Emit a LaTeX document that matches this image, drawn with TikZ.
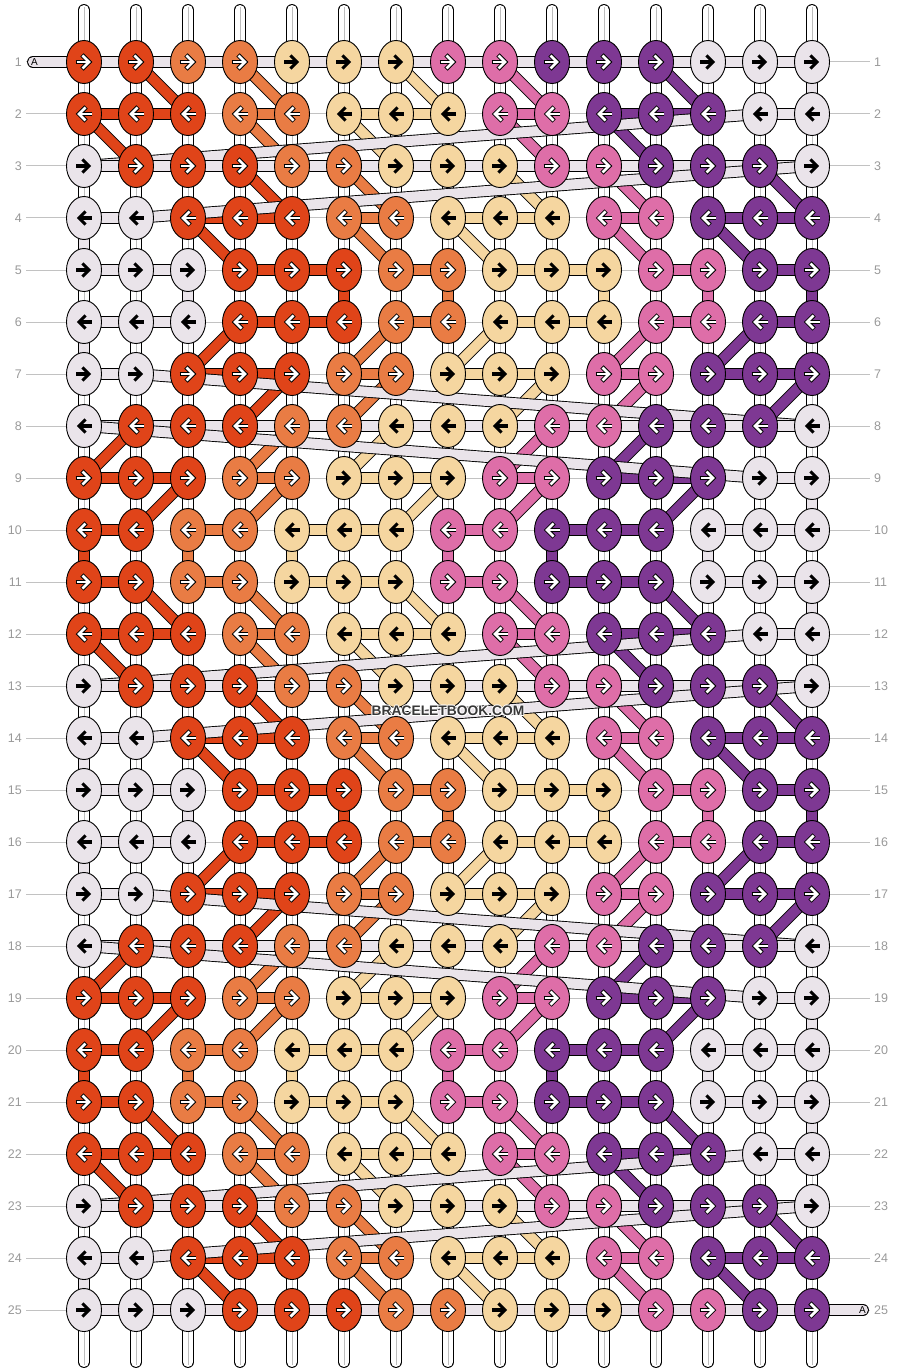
\documentclass[tikz,border=0pt]{standalone}
\usepackage{fontspec}
\setmainfont{Liberation Sans}
\usetikzlibrary{shapes.geometric}
\definecolor{kR}{HTML}{E04419}
\definecolor{kO}{HTML}{E97C44}
\definecolor{kY}{HTML}{F5D6A0}
\definecolor{kP}{HTML}{DE6EA8}
\definecolor{kV}{HTML}{7E3893}
\definecolor{kW}{HTML}{EAE4EA}
\definecolor{lblgray}{HTML}{999999}
\definecolor{rowgray}{HTML}{C2C2C2}
\definecolor{strandmid}{HTML}{BDBDBD}
\definecolor{wmtext}{HTML}{383838}
% knot colour patterns (rows 1..11; rows 12-25 repeat 2..11)
\expandafter\def\csname pat1\endcsname{R,R,O,O,Y,Y,Y,P,P,V,V,V,W,W,W}
\expandafter\def\csname pat2\endcsname{R,R,R,O,O,Y,Y,Y,P,P,V,V,V,W,W}
\expandafter\def\csname pat3\endcsname{W,R,R,R,O,O,Y,Y,Y,P,P,V,V,V,W}
\expandafter\def\csname pat4\endcsname{W,W,R,R,R,O,O,Y,Y,Y,P,P,V,V,V}
\expandafter\def\csname pat5\endcsname{W,W,W,R,R,R,O,O,Y,Y,Y,P,P,V,V}
\expandafter\def\csname pat6\endcsname{W,W,W,R,R,R,O,O,Y,Y,Y,P,P,V,V}
\expandafter\def\csname pat7\endcsname{W,W,R,R,R,O,O,Y,Y,Y,P,P,V,V,V}
\expandafter\def\csname pat8\endcsname{W,R,R,R,O,O,Y,Y,Y,P,P,V,V,V,W}
\expandafter\def\csname pat9\endcsname{R,R,R,O,O,Y,Y,Y,P,P,V,V,V,W,W}
\expandafter\def\csname pat10\endcsname{R,R,O,O,Y,Y,Y,P,P,V,V,V,W,W,W}
\expandafter\def\csname pat11\endcsname{R,R,O,O,Y,Y,Y,P,P,V,V,V,W,W,W}
% thread transitions between consecutive rows: colour/from col/to col
\expandafter\def\csname tr1\endcsname{W/15/15,V/12/13,P/9/10,Y/7/8,O/4/5,R/2/3}
\expandafter\def\csname tr2\endcsname{W/14/1,R/1/2,O/4/5,Y/6/7,P/9/10,V/11/12}
\expandafter\def\csname tr3\endcsname{V/14/15,P/11/12,Y/9/10,O/6/7,R/4/5,W/15/2}
\expandafter\def\csname tr4\endcsname{W/1/1,R/3/4,O/6/7,Y/8/9,P/11/12,V/13/14}
\expandafter\def\csname tr5\endcsname{V/15/15,P/13/13,Y/11/11,O/8/8,R/6/6,W/3/3}
\expandafter\def\csname tr6\endcsname{W/1/1,R/4/3,O/7/6,Y/9/8,P/12/11,V/14/13}
\expandafter\def\csname tr7\endcsname{W/2/15,V/15/14,P/12/11,Y/10/9,O/7/6,R/5/4}
\expandafter\def\csname tr8\endcsname{R/2/1,O/5/4,Y/7/6,P/10/9,V/12/11,W/1/14}
\expandafter\def\csname tr9\endcsname{W/15/15,V/13/12,P/10/9,Y/8/7,O/5/4,R/3/2}
\expandafter\def\csname tr10\endcsname{R/1/1,O/3/3,Y/5/5,P/8/8,V/10/10,W/13/13}
\tikzset{
  thr/.style={draw=black, line width=0.9pt, double=#1, double distance=10pt},
  strand/.style={draw=black, line width=0.9pt, double=white, double distance=10pt, line cap=round},
  strandline/.style={draw=strandmid, line width=0.9pt},
  rowline/.style={draw=rowgray, line width=1pt},
  knot/.style={ellipse, draw=black, line width=0.9pt, minimum width=35pt, minimum height=43pt, inner sep=0pt},
  arrout/.style={draw=black, line width=4.6pt, line join=miter},
  arrin/.style={draw=#1, line width=2.8pt, line join=miter},
  arrblk/.style={draw=black, line width=3.1pt, line join=miter},
  lbl/.style={text=lblgray, font=\fontsize{12.5}{14}\selectfont, inner sep=0pt},
  alab/.style={text=black, font=\fontsize{10}{10}\selectfont, inner sep=0pt},
  wm/.style={font=\fontsize{13.8}{15}\selectfont\bfseries, inner sep=0pt}
}
\begin{document}
\begin{tikzpicture}[x=1pt,y=-1pt]
\useasboundingbox (0,0) rectangle (896,1372);
% positions and colour table
\foreach \r in {1,...,25}{
  \pgfmathtruncatemacro\p{\r==1 ? 1 : mod(\r-2,10)+2}
  \pgfmathsetmacro\yy{62+52*(\r-1)}
  \edef\pat{\csname pat\p\endcsname}
  \foreach \c [count=\i] in \pat {
    \coordinate (p\r-\i) at ({84+52*(\i-1)},\yy);
    \expandafter\xdef\csname kc\r-\i\endcsname{\c}
  }
  \coordinate (rl\r) at (26,\yy);
  \coordinate (rr\r) at (870,\yy);
}
% base strands
\foreach \i in {1,...,15}{
  \pgfmathsetmacro\xx{84+52*(\i-1)}
  \coordinate (st\i) at (\xx,10);
  \coordinate (sb\i) at (\xx,1362);
  \coordinate (stm\i) at (\xx,7);
  \coordinate (sbm\i) at (\xx,1365);
  \draw[strand] (st\i) -- (sb\i);
  \draw[strandline] (stm\i) -- (sbm\i);
}
% row guide lines
\foreach \r in {1,...,25}{ \draw[rowline] (rl\r) -- (rr\r); }
% coloured threads
\foreach \r in {1,...,25}{
  \ifnum\r>1
    \pgfmathtruncatemacro\pr{\r-1}
    \pgfmathtruncatemacro\q{mod(\r-2,10)+1}
    \edef\tl{\csname tr\q\endcsname}
    \foreach \cc/\a/\b in \tl {\if\cc W\else\draw[thr=k\cc] (p\pr-\a) -- (p\r-\b);\fi}
  \fi
  \foreach \i in {1,...,14}{
    \pgfmathtruncatemacro\j{\i+1}
    \edef\ca{\csname kc\r-\i\endcsname}\edef\cb{\csname kc\r-\j\endcsname}
    \ifx\ca\cb\if\ca W\else\draw[thr=k\ca] (p\r-\i) -- (p\r-\j);\fi\fi
  }
}
% light (A) thread
\coordinate (Astart) at (33,62);
\coordinate (Aend) at (863,1310);
\foreach \r in {1,...,25}{
  \pgfmathtruncatemacro\p{\r==1 ? 1 : mod(\r-2,10)+2}
  \ifnum\r=1 \draw[thr=kW, line cap=round] (Astart) -- (p1-13);\fi
  \ifnum\r>1
    \pgfmathtruncatemacro\pr{\r-1}
    \pgfmathtruncatemacro\q{mod(\r-2,10)+1}
    \edef\tl{\csname tr\q\endcsname}
    \foreach \cc/\a/\b in \tl {\if\cc W\draw[thr=kW] (p\pr-\a) -- (p\r-\b);\fi}
  \fi
  \ifnum\p=3 \draw[thr=kW] (p\r-1) -- (p\r-15);\fi
  \ifnum\p=8 \draw[thr=kW] (p\r-15) -- (p\r-1);\fi
  \foreach \i in {1,...,14}{
    \pgfmathtruncatemacro\j{\i+1}
    \edef\ca{\csname kc\r-\i\endcsname}\edef\cb{\csname kc\r-\j\endcsname}
    \ifx\ca\cb\if\ca W\draw[thr=kW] (p\r-\i) -- (p\r-\j);\fi\fi
  }
  \ifnum\r=25 \draw[thr=kW, line cap=round] (p25-3) -- (Aend);\fi
}
\node[alab] (astartlbl) at (34.5,62.5) {A};
\node[alab] (aendlbl) at (862.5,1310.5) {A};
% knots
\foreach \r in {1,...,25}{
  \pgfmathtruncatemacro\dir{mod(\r,2)==1 ? 1 : -1}
  \foreach \i in {1,...,15}{
    \edef\ca{\csname kc\r-\i\endcsname}
    \node[knot, fill=k\ca] (k\r-\i) at (p\r-\i) {};
    \if\ca Y\def\wa{0}\else\if\ca W\def\wa{0}\else\def\wa{1}\fi\fi
    \begin{scope}[shift={(p\r-\i)}, xscale=\dir]
      \ifnum\wa=1
        \draw[arrout] (-8.4,0) -- (4,0);
        \draw[arrout] (-2.1,-7.1) -- (5,0) -- (-2.1,7.1);
        \draw[arrin=white] (-7.5,0) -- (4,0);
        \draw[arrin=white] (-1.5,-6.5) -- (5,0) -- (-1.5,6.5);
      \else
        \draw[arrblk] (-7.8,0) -- (4,0);
        \draw[arrblk] (-1.6,-6.6) -- (5,0) -- (-1.6,6.6);
      \fi
    \end{scope}
  }
}
% row numbers
\foreach \r in {1,...,25}{
  \pgfmathsetmacro\yy{62+52*(\r-1)}
  \node[lbl, anchor=east] (ln\r) at (22,\yy) {\r};
  \node[lbl, anchor=west] (rn\r) at (874,\yy) {\r};
}
% watermark
\foreach \dx/\dy [count=\n] in {1/0,-1/0,0/1,0/-1,0.7/0.7,-0.7/0.7,0.7/-0.7,-0.7/-0.7}{
  \node[wm, text=white] (wmh\n) at ({448+(\dx)},{711+(\dy)}) {BRACELETBOOK.COM};
}
\node[wm, text=wmtext] (wm) at (448,711) {BRACELETBOOK.COM};
\end{tikzpicture}
\end{document}
